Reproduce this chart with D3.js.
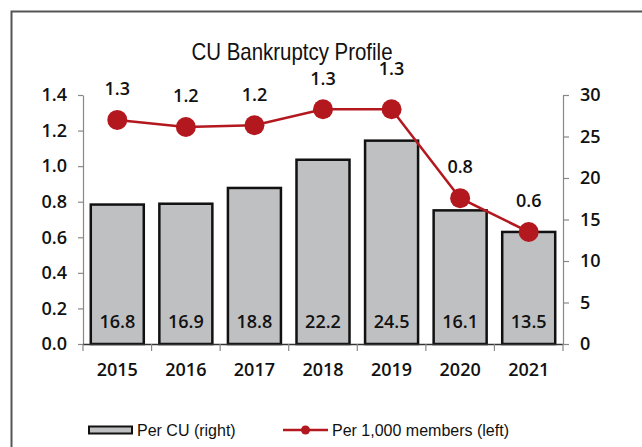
<!DOCTYPE html>
<html lang="en">
<head>
  <meta charset="UTF-8">
  <title>CU Bankruptcy Profile</title>
  <style>
    body {
      margin: 0;
      padding: 0;
      background: #fff;
    }

    .tick-label {
      font-family: "Open Sans", sans-serif;
      font-weight: 600;
      font-size: 18px;
      fill: #111;
    }

    .title {
      font-family: "Liberation Sans", Arial, sans-serif;
      font-size: 24px;
      fill: #111;
    }

    .legend-text {
      font-family: "Liberation Sans", Arial, sans-serif;
      font-size: 16px;
      fill: #111;
    }
  </style>
</head>
<body>
  <div id="chart"></div>

  <script src="https://d3js.org/d3.v7.min.js"></script>
  <script>
    // dados
    const years = ["2015", "2016", "2017", "2018", "2019", "2020", "2021"];
    const perCU = [16.8, 16.9, 18.8, 22.2, 24.5, 16.1, 13.5];
    const perMembers = [1.26, 1.22, 1.23, 1.32, 1.32, 0.82, 0.63];
    const leftTicks = [0, 0.2, 0.4, 0.6, 0.8, 1.0, 1.2, 1.4];
    const rightTicks = [0, 5, 10, 15, 20, 25, 30];

    const width = 642;
    const height = 447;
    const lineColor = "#b4181f";

    const svg = d3.select("#chart")
      .append("svg")
      .attr("width", width)
      .attr("height", height);

    // moldura
    svg.append("rect")
      .attr("x", 11.5)
      .attr("y", 11.5)
      .attr("width", 700)
      .attr("height", 500)
      .attr("fill", "none")
      .attr("stroke", "#555")
      .attr("stroke-width", 2);

    // escalas
    const x = d3.scaleBand()
      .domain(years)
      .range([83, 563])
      .paddingInner(0.227)
      .paddingOuter(0.1135);

    const yLeft = d3.scaleLinear()
      .domain([0, 1.4])
      .range([344, 95]);

    const yRight = d3.scaleLinear()
      .domain([0, 30])
      .range([344, 95]);

    // título (fonte estreita no original)
    svg.append("text")
      .attr("class", "title")
      .attr("x", 292)
      .attr("y", 60)
      .attr("text-anchor", "middle")
      .attr("textLength", 201)
      .attr("lengthAdjust", "spacingAndGlyphs")
      .text("CU Bankruptcy Profile");

    // eixo esquerdo
    const leftAxis = svg.append("g")
      .attr("transform", "translate(83,0)")
      .call(d3.axisLeft(yLeft).tickValues(leftTicks).tickFormat(d3.format(".1f"))
        .tickSize(5).tickSizeOuter(0).tickPadding(11));

    // eixo direito
    const rightAxis = svg.append("g")
      .attr("transform", "translate(563,0)")
      .call(d3.axisRight(yRight).tickValues(rightTicks).tickFormat(d3.format("d"))
        .tickSize(6).tickSizeOuter(0).tickPadding(11));

    [leftAxis, rightAxis].forEach(g => {
      g.select(".domain").attr("stroke", "#888").attr("stroke-width", 1.2);
      g.selectAll(".tick line").attr("stroke", "#888").attr("stroke-width", 1.2);
      g.selectAll(".tick text").attr("class", "tick-label").attr("font-size", null).attr("font-family", null);
    });

    // barras
    const data = years.map((year, i) => ({ year, cu: perCU[i], members: perMembers[i] }));

    svg.selectAll("rect.bar")
      .data(data)
      .enter()
      .append("rect")
      .attr("class", "bar")
      .attr("x", d => x(d.year))
      .attr("y", d => yRight(d.cu))
      .attr("width", x.bandwidth())
      .attr("height", d => yRight(0) - yRight(d.cu))
      .attr("fill", "#bfc0c2")
      .attr("stroke", "#111")
      .attr("stroke-width", 2.5);

    // linha de base e marcas das categorias
    svg.append("line")
      .attr("x1", 83)
      .attr("x2", 563)
      .attr("y1", 344.5)
      .attr("y2", 344.5)
      .attr("stroke", "#333")
      .attr("stroke-width", 1.5);

    svg.selectAll("line.cat-tick")
      .data(d3.range(years.length + 1))
      .enter()
      .append("line")
      .attr("class", "cat-tick")
      .attr("x1", i => x.range()[0] + i * x.step())
      .attr("x2", i => x.range()[0] + i * x.step())
      .attr("y1", 344)
      .attr("y2", 351)
      .attr("stroke", "#888")
      .attr("stroke-width", 1.2);

    // rótulos dos anos
    svg.selectAll("text.year")
      .data(data)
      .enter()
      .append("text")
      .attr("class", "tick-label")
      .attr("x", d => x(d.year) + x.bandwidth() / 2)
      .attr("y", 370)
      .attr("dy", "0.35em")
      .attr("text-anchor", "middle")
      .text(d => d.year);

    // valores das barras
    svg.selectAll("text.bar-value")
      .data(data)
      .enter()
      .append("text")
      .attr("class", "tick-label")
      .attr("x", d => x(d.year) + x.bandwidth() / 2)
      .attr("y", 322)
      .attr("dy", "0.35em")
      .attr("text-anchor", "middle")
      .text(d => d.cu.toFixed(1));

    // linha por 1.000 membros
    const line = d3.line()
      .x(d => x(d.year) + x.bandwidth() / 2)
      .y(d => yLeft(d.members));

    svg.append("path")
      .datum(data)
      .attr("d", line)
      .attr("fill", "none")
      .attr("stroke", lineColor)
      .attr("stroke-width", 2.5);

    svg.selectAll("circle.dot")
      .data(data)
      .enter()
      .append("circle")
      .attr("cx", d => x(d.year) + x.bandwidth() / 2)
      .attr("cy", d => yLeft(d.members))
      .attr("r", 10)
      .attr("fill", lineColor);

    // rótulos da linha (2019 fica mais alto no original)
    svg.selectAll("text.line-value")
      .data(data)
      .enter()
      .append("text")
      .attr("class", "tick-label")
      .attr("x", d => x(d.year) + x.bandwidth() / 2)
      .attr("y", d => yLeft(d.members) - (d.year === "2019" ? 41 : 31))
      .attr("dy", "0.35em")
      .attr("text-anchor", "middle")
      .text(d => d.members.toFixed(1));

    // legenda
    const legend = svg.append("g");

    legend.append("rect")
      .attr("x", 89)
      .attr("y", 426.5)
      .attr("width", 43)
      .attr("height", 7)
      .attr("fill", "#bfc0c2")
      .attr("stroke", "#111")
      .attr("stroke-width", 2);

    legend.append("text")
      .attr("class", "legend-text")
      .attr("x", 137)
      .attr("y", 430)
      .attr("dy", "0.35em")
      .text("Per CU (right)");

    legend.append("line")
      .attr("x1", 283)
      .attr("x2", 328)
      .attr("y1", 430)
      .attr("y2", 430)
      .attr("stroke", lineColor)
      .attr("stroke-width", 2.5);

    legend.append("circle")
      .attr("cx", 305.5)
      .attr("cy", 430)
      .attr("r", 4.5)
      .attr("fill", lineColor);

    legend.append("text")
      .attr("class", "legend-text")
      .attr("x", 332)
      .attr("y", 430)
      .attr("dy", "0.35em")
      .text("Per 1,000 members (left)");
  </script>
</body>
</html>
